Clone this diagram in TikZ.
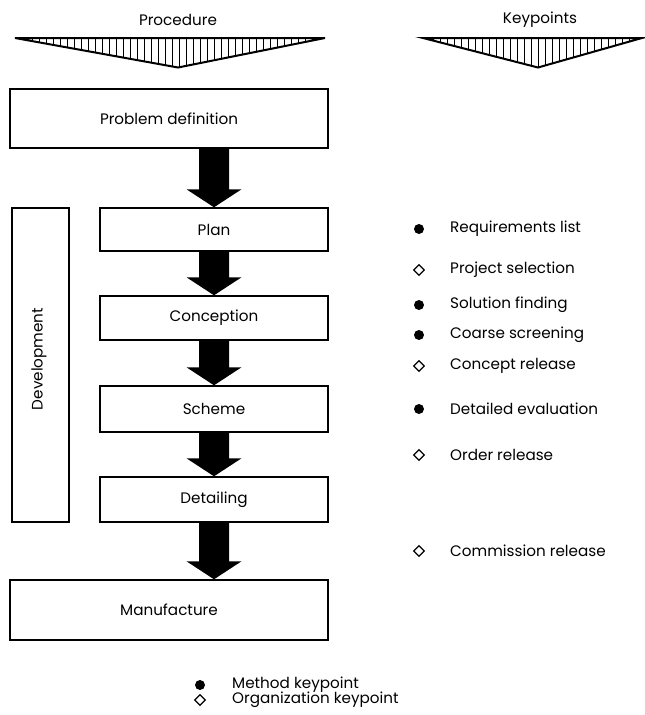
\documentclass[tikz,border=0pt]{standalone}
\usepackage{fontspec}
\setmainfont{Poppins}
\usetikzlibrary{shapes.geometric,calc}

\tikzset{
  box/.style={draw, line width=1.4pt, minimum height=44pt, inner sep=0pt, font=\fontsize{15.2}{18}\selectfont},
  lbl/.style={font=\fontsize{15.2}{18}\selectfont, inner sep=0pt},
  kptext/.style={font=\fontsize{15.2}{18}\selectfont, anchor=west, inner sep=0pt},
  dot/.style={circle, fill=black, minimum size=10pt, inner sep=0pt},
  dia/.style={diamond, draw, line width=1.3pt, minimum size=11pt, inner sep=0pt},
  funnel/.style={line width=2pt, line join=miter},
  hatch/.style={line width=0.7pt}
}

% thick black block arrow from the bottom of one box to the top of the next
\newcommand\flowarrow[2]{%
  \fill let \p1=(#1), \p2=(#2) in
    (\x1-15pt,\y1) -- (\x1+15pt,\y1) -- (\x1+15pt,\y2+18pt) -- (\x1+27.5pt,\y2+18pt)
    -- (\x2,\y2) -- (\x1-27.5pt,\y2+18pt) -- (\x1-15pt,\y2+18pt) -- cycle;}

% hatched funnel: left tip x, right tip x, apex x
\newcommand\hatchfunnel[3]{%
  \begin{scope}
    \clip (#1,38) -- (#2,38) -- (#3,67.5) -- cycle;
    \foreach \hx in {#1,...,#2} {
      \pgfmathparse{int(mod(\hx-#1,7))}
      \ifnum\pgfmathresult=3 \draw[hatch] (\hx,36) -- (\hx,70); \fi
    }
  \end{scope}
  \draw[funnel] (#1,38) -- (#2,38) -- (#3,67.5) -- cycle;}

\begin{document}
\begin{tikzpicture}[x=1pt, y=-1pt]
  \useasboundingbox (0,0) rectangle (645,715);

  % column headings and funnels
  \node[lbl] (proc) at (178,20) {Procedure};
  \node[lbl] (keyp) at (540,20) {Keypoints};
  \hatchfunnel{15}{325}{178}
  \hatchfunnel{423}{642}{538}

  % procedure boxes
  \node[box, minimum width=318pt, minimum height=59pt] (pd)  at (169,118.5) {Problem definition};
  \node[box, minimum width=228pt, minimum height=43pt] (plan) at (214,229.5) {Plan};
  \node[box, minimum width=228pt, minimum height=44pt] (conc) at (214,318) {Conception};
  \node[box, minimum width=228pt, minimum height=46pt] (sch)  at (214,409) {Scheme};
  \node[box, minimum width=228pt, minimum height=45pt] (det)  at (214,499.5) {Detailing};
  \node[box, minimum width=318pt, minimum height=60pt] (man)  at (169,610) {Manufacture};

  % development bracket
  \node[box, minimum width=57pt, minimum height=314pt] (dev) at (40.5,365) {};
  \node[lbl, rotate=90] (devt) at (39,359) {Development};

  % block arrows
  \flowarrow{pd.south -| plan.north}{plan.north}
  \flowarrow{plan.south}{conc.north}
  \flowarrow{conc.south}{sch.north}
  \flowarrow{sch.south}{det.north}
  \flowarrow{det.south}{det.south |- man.north}

  % keypoints
  \node[dot] (m1) at (419,229) {};  \node[kptext] (k1) at (450,229) {Requirements list};
  \node[dia] (o1) at (419,270) {};  \node[kptext] (k2) at (450,270) {Project selection};
  \node[dot] (m2) at (419,305) {};  \node[kptext] (k3) at (450,305) {Solution finding};
  \node[dot] (m3) at (419,335) {};  \node[kptext] (k4) at (450,335) {Coarse screening};
  \node[dia] (o2) at (419,366) {};  \node[kptext] (k5) at (450,366) {Concept release};
  \node[dot] (m4) at (419,409) {};  \node[kptext] (k6) at (450,409) {Detailed evaluation};
  \node[dia] (o3) at (419,455) {};  \node[kptext] (k7) at (450,455) {Order release};
  \node[dia] (o4) at (419,551) {};  \node[kptext] (k8) at (450,551) {Commission release};

  % legend
  \node[dot] (lm) at (200,685) {};  \node[kptext] (lmt) at (232,685) {Method keypoint};
  \node[dia] (lo) at (200,700) {};  \node[kptext] (lot) at (232,700) {Organization keypoint};
\end{tikzpicture}
\end{document}
